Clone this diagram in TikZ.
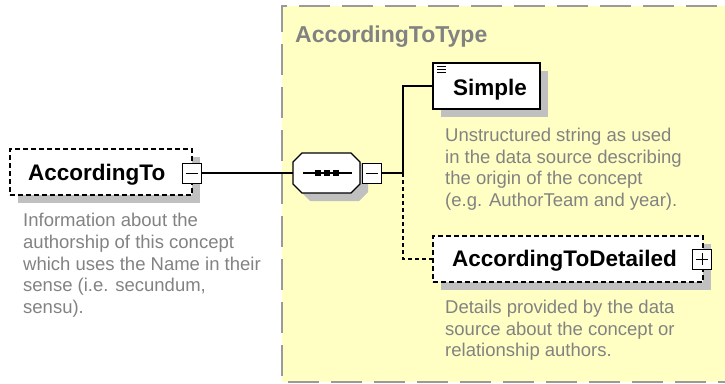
\documentclass[tikz,border=0pt]{standalone}
\usepackage{fontspec}
\setmainfont{Liberation Sans}
\usetikzlibrary{calc,shadows}
\definecolor{bgyellow}{HTML}{FFFFC4}
\definecolor{framegray}{HTML}{9A9A9A}
\definecolor{shadowc}{HTML}{C0C0C0}
\definecolor{descgray}{HTML}{828282}
\tikzset{
  elembox/.style={draw=black, fill=white, line width=1.3pt, inner sep=0pt,
    drop shadow={shadow xshift=8pt, shadow yshift=-8pt, fill=shadowc, opacity=1, draw=none}},
  optbox/.style={elembox, dash pattern=on 5pt off 3pt},
  expbox/.style={draw=black, fill=white, line width=1pt, minimum width=19pt, minimum height=20pt, inner sep=0pt},
  nametext/.style={anchor=base west, inner sep=0pt, font=\fontsize{22.5}{27}\selectfont\bfseries},
  desctext/.style={anchor=base west, inner sep=0pt, align=left, text=descgray, font=\fontsize{18.5}{21.7}\selectfont},
  conn/.style={line width=1.3pt, draw=black},
  optconn/.style={conn, dash pattern=on 4pt off 3pt},
  frame/.style={draw=framegray, line width=1.5pt, dash pattern=on 31pt off 12pt}
}
\begin{document}
\begin{tikzpicture}[x=1pt,y=-1pt]
\useasboundingbox (0,0) rectangle (725,383);
\begin{scope}
\clip (0,0) rectangle (725,383);
% type region
\fill[bgyellow] (282,6) rectangle (760,382);
\draw[frame] (760,6) -- (282,6) -- (282,382) -- (760,382);
\node[anchor=base west, inner sep=0pt, text=descgray, font=\fontsize{23}{27}\selectfont\bfseries] (typelbl) at (295,42.3) {AccordingToType};

% AccordingTo element
\node[optbox, minimum width=182pt, minimum height=46pt] (at) at (101,172) {};
\node[nametext] (attxt) at (28,180.7) {AccordingTo};
\node[expbox] (atx) at (191.5,173) {};
\draw[line width=1pt] ($(atx.center)+(-6,0)$) -- ($(atx.center)+(6,0)$);
% base anchor of a multi-line node is the last line's baseline
\node[desctext] (atdesc) at (23,313.5) {Information about the\\authorship of this concept\\which uses the Name in their\\sense (i.e. secundum,\\sensu).};

% sequence compositor
\fill[shadowc, shift={(8,8)}] (302,153) -- (351,153) -- (360,162) -- (360,184) -- (351,193) -- (302,193) -- (293,184) -- (293,162) -- cycle;
\draw[fill=white, line width=1.3pt] (302,153) -- (351,153) -- (360,162) -- (360,184) -- (351,193) -- (302,193) -- (293,184) -- (293,162) -- cycle;
\node[minimum width=67pt, minimum height=40pt, inner sep=0pt] (seq) at (326.5,173) {};
\draw[line width=1.3pt] (303,173) -- (352,173);
\foreach \sx in {318,327,336} {\fill (\sx,173) +(-2.7,-2.7) rectangle +(2.7,2.7);}
\node[expbox] (seqx) at (372,173) {};
\draw[line width=1pt] ($(seqx.center)+(-6,0)$) -- ($(seqx.center)+(6,0)$);

\draw[conn] (atx.east) -- (seq.west);

% Simple element
\node[elembox, minimum width=107pt, minimum height=46pt] (simple) at (486.5,86) {};
\node[nametext] (simpletxt) at (453,95) {Simple};
\draw[line width=0.9pt] (437,66) -- (446,66) (437,69) -- (446,69) (437,72) -- (446,72);
\node[desctext] (simpledesc) at (445,206.6) {Unstructured string as used\\in the data source describing\\the origin of the concept\\(e.g. AuthorTeam and year).};

% AccordingToDetailed element
\node[optbox, minimum width=270pt, minimum height=46pt] (atd) at (568,259) {};
\node[nametext] (atdtxt) at (452,266.7) {AccordingToDetailed};
\node[expbox] (atdx) at (702,259) {};
\draw[line width=1pt] ($(atdx.center)+(-6,0)$) -- ($(atdx.center)+(6,0)$) ($(atdx.center)+(0,-6)$) -- ($(atdx.center)+(0,6)$);
\node[desctext] (atddesc) at (445,356.7) {Details provided by the data\\source about the concept or\\relationship authors.};

% connectors
\coordinate (jn) at (403,173);
\draw[conn] (seqx.east) -- (jn);
\draw[conn] (jn) |- (simple.west);
\draw[optconn] (jn) |- (atd.west);
\end{scope}
\end{tikzpicture}
\end{document}
